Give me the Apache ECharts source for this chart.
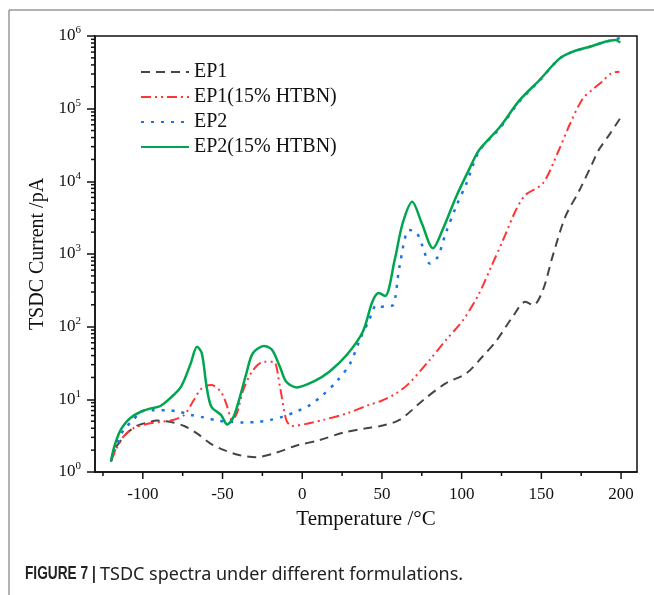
<!DOCTYPE html>
<html>
<head>
<meta charset="utf-8">
<script src="https://cdn.jsdelivr.net/npm/echarts@6/dist/echarts.min.js"></script>
<style>
  html, body { margin: 0; padding: 0; background: #fff; }
  #chart { width: 654px; height: 595px; }
</style>
</head>
<body>
<div id="chart"></div>
<script>
// TSDC current (pA) against temperature (°C) for four epoxy formulations
const seriesNames = ['EP1', 'EP1(15% HTBN)', 'EP2', 'EP2(15% HTBN)'];

const ep1Temp = [-120, -118, -115, -110, -104, -97, -91, -83, -74, -66, -58, -49, -39, -29, -16, -4, 11, 26, 40, 49, 61, 76, 90, 103, 113, 122, 132, 140, 145, 151, 157, 165, 174, 182, 186, 193, 200];
const ep1Current = [1.4, 2.0, 2.5, 3.4, 4.3, 4.8, 5.1, 4.9, 4.3, 3.4, 2.5, 2.0, 1.7, 1.6, 1.85, 2.3, 2.75, 3.5, 4.0, 4.3, 5.2, 9.8, 16.6, 22.8, 38.6, 65, 137, 220, 198, 320, 920, 3240, 7600, 17700, 27000, 45000, 77000];

const ep1hTemp = [-120, -116, -112, -106, -97, -89, -81, -74, -68, -63, -57, -51, -47, -44, -41, -37, -31, -24, -18, -14, -10, -6.5, 3, 13, 28, 42, 49, 59, 67, 80, 90, 101, 111, 119, 126, 134, 140, 151, 161, 168, 176, 182, 188, 194, 199];
const ep1hCurrent = [1.4, 2.2, 3.1, 4.0, 4.6, 4.9, 5.2, 6.1, 9.8, 14.2, 15.7, 12.7, 7.9, 5.2, 6.4, 13.4, 25, 33, 33, 14.9, 5.2, 4.3, 4.6, 5.2, 6.4, 8.4, 9.4, 12.1, 16.6, 35, 65, 124, 288, 705, 1560, 4000, 6500, 9400, 27000, 62000, 138000, 182000, 235000, 307000, 323000];

const ep2Temp = [-120, -116, -112, -106, -101, -93, -85, -78, -70, -62, -53, -45, -37, -28, -20, -12, -3.5, 5, 13, 21.5, 30, 36, 42, 46.5, 49, 53, 57, 61, 67, 71.5, 75.6, 80, 85, 90, 96.5, 103, 111, 124, 136, 149, 161, 169, 182, 190, 196, 200];
const ep2Current = [1.4, 2.5, 3.8, 5.2, 6.8, 7.1, 7.1, 6.8, 6.1, 5.65, 5.1, 4.9, 4.8, 4.9, 5.2, 5.8, 6.8, 8.4, 11.5, 17.5, 31, 65, 124, 198, 188, 192, 198, 668, 2140, 2000, 1260, 740, 915, 1930, 4470, 9400, 26000, 54000, 124000, 245000, 480000, 600000, 730000, 830000, 890000, 960000];

const ep2hTemp = [-120, -118, -115, -112, -108, -101, -95, -89, -83, -76, -70, -66, -63, -60, -57, -51, -47, -43, -39, -35, -31, -24, -19, -14, -10, -3.5, 7, 17, 28, 38, 44, 48, 52, 58, 63, 69, 75, 82, 88, 96.5, 105, 111, 124, 136, 149, 161, 169, 182, 190, 196.5, 199.5];
const ep2hCurrent = [1.4, 2.2, 3.4, 4.4, 5.5, 6.8, 7.5, 8.1, 10.3, 15, 31, 53, 43, 15, 7.9, 6.1, 4.5, 5.8, 11, 23, 43, 54, 48, 28, 17.5, 14.6, 17.5, 24, 41, 85, 220, 290, 265, 830, 2650, 5240, 2650, 1200, 2140, 6100, 15100, 27000, 56000, 128000, 250000, 480000, 600000, 730000, 835000, 880000, 810000];

// axis ticks
const xMajorTicks = [-100, -50, 0, 50, 100, 150, 200];
const xMinorTicks = [-125, -75, -25, 25, 75, 125, 175];
const yDecadeExponents = [0, 1, 2, 3, 4, 5];
const yMinorMultipliers = [2, 3, 4, 5, 6, 7, 8, 9];

const serif = '"Liberation Serif", "Times New Roman", serif';
const ink = '#111';

function pairs(xs, ys) {
  return xs.map((x, i) => [x, ys[i]]);
}

const chart = echarts.init(document.getElementById('chart'));

const lineBase = { type: 'line', symbol: 'none', showSymbol: false, smooth: 0.3, animation: false };

chart.setOption({
  animation: false,
  backgroundColor: '#fff',
  grid: {
    left: 95, right: 17, top: 36, bottom: 123,
    show: true, borderColor: ink, borderWidth: 1.5, backgroundColor: 'transparent'
  },
  legend: {
    orient: 'vertical',
    left: 135, top: 57,
    itemWidth: 48, itemHeight: 14, itemGap: 5,
    itemStyle: { opacity: 0 },
    textStyle: { fontFamily: serif, fontSize: 20, color: ink, lineHeight: 20 },
    data: seriesNames
  },
  xAxis: {
    type: 'value',
    min: -130, max: 210, splitNumber: 7,
    axisLine: { onZero: false, lineStyle: { color: ink, width: 1.5 } },
    axisTick: { show: false },
    splitLine: { show: false },
    axisLabel: {
      showMinLabel: false, showMaxLabel: false,
      fontFamily: serif, fontSize: 17, color: ink, margin: 14
    },
    name: 'Temperature /°C',
    nameLocation: 'middle', nameGap: 37,
    nameTextStyle: { fontFamily: serif, fontSize: 21, color: ink }
  },
  yAxis: {
    type: 'log', logBase: 10,
    min: 1, max: 1000000,
    axisLine: { onZero: false, lineStyle: { color: ink, width: 1.5 } },
    axisTick: { show: true, inside: false, length: 8, lineStyle: { color: ink, width: 1.5 } },
    splitLine: { show: false },
    axisLabel: {
      margin: 14,
      formatter: v => '{b|10}{s|' + Math.round(Math.log10(v)) + '}',
      rich: {
        b: { fontFamily: serif, fontSize: 17, color: ink, lineHeight: 22 },
        s: { fontFamily: serif, fontSize: 11, color: ink, lineHeight: 12, verticalAlign: 'top' }
      }
    },
    name: 'TSDC Current /pA',
    nameLocation: 'middle', nameGap: 45,
    nameTextStyle: { fontFamily: serif, fontSize: 20, color: ink }
  },
  series: [
    Object.assign({}, lineBase, {
      name: seriesNames[0], data: pairs(ep1Temp, ep1Current),
      lineStyle: { color: '#454545', width: 2, type: [9, 6] }, itemStyle: { color: '#454545' }
    }),
    Object.assign({}, lineBase, {
      name: seriesNames[1], data: pairs(ep1hTemp, ep1hCurrent),
      lineStyle: { color: '#ff3535', width: 2, type: [10, 4, 2, 4, 2, 4] }, itemStyle: { color: '#ff3535' }
    }),
    Object.assign({}, lineBase, {
      name: seriesNames[2], data: pairs(ep2Temp, ep2Current),
      lineStyle: { color: '#1a73e8', width: 2.5, type: [3, 7] }, itemStyle: { color: '#1a73e8' }
    }),
    Object.assign({}, lineBase, {
      name: seriesNames[3], data: pairs(ep2hTemp, ep2hCurrent),
      lineStyle: { color: '#00a550', width: 2.5, type: 'solid' }, itemStyle: { color: '#00a550' }
    })
  ]
});

// outward x ticks and logarithmic minor y ticks, placed through the axis scales
const graphics = [];
const yBottom = chart.convertToPixel({ yAxisIndex: 0 }, 1);
const xLeft = chart.convertToPixel({ xAxisIndex: 0 }, -130);

function tick(x1, y1, x2, y2) {
  graphics.push({
    type: 'line', silent: true,
    shape: { x1: x1, y1: y1, x2: x2, y2: y2 },
    style: { stroke: ink, lineWidth: 1.5 }
  });
}

xMajorTicks.forEach(t => {
  const px = chart.convertToPixel({ xAxisIndex: 0 }, t);
  tick(px, yBottom, px, yBottom + 7);
});
xMinorTicks.forEach(t => {
  const px = chart.convertToPixel({ xAxisIndex: 0 }, t);
  tick(px, yBottom, px, yBottom + 4);
});
yDecadeExponents.forEach(e => {
  yMinorMultipliers.forEach(m => {
    const py = chart.convertToPixel({ yAxisIndex: 0 }, m * Math.pow(10, e));
    tick(xLeft - 4, py, xLeft, py);
  });
});

// figure frame and caption (bold label narrowed horizontally)
graphics.push({
  type: 'polyline', silent: true,
  shape: { points: [[9, 595], [9, 10], [654, 10]] },
  style: { stroke: '#666', lineWidth: 1, fill: null }
});
graphics.push({
  type: 'text', x: 25, y: 565, scaleX: 0.76, scaleY: 1,
  style: { text: 'FIGURE 7 |', font: 'bold 18px "Liberation Sans", Arial, sans-serif', fill: '#222' }
});
graphics.push({
  type: 'text', x: 100, y: 566,
  style: { text: 'TSDC spectra under different formulations.', font: '18px "Noto Sans", "Liberation Sans", sans-serif', fill: '#222' }
});

chart.setOption({ graphic: graphics });
</script>
</body>
</html>
